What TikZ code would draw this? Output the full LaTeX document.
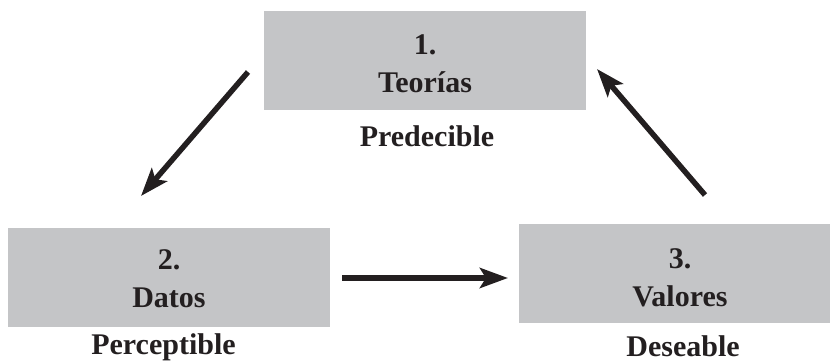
\documentclass[tikz,border=0pt]{standalone}
\usepackage{fontspec}
\setmainfont{Liberation Serif}
\usetikzlibrary{arrows.meta}
\definecolor{boxgray}{HTML}{C4C5C7}
\definecolor{ink}{HTML}{231F20}
\tikzset{
  stagebox/.style={fill=boxgray, draw=none, inner sep=0pt, rectangle},
  stagetext/.style={text=ink, font=\bfseries\fontsize{30}{38}\selectfont, align=center, inner sep=0pt, anchor=north},
  labeltext/.style={text=ink, font=\bfseries\fontsize{30}{38}\selectfont, inner sep=0pt, anchor=base},
  flow/.style={draw=ink, line width=5.5pt, -{Stealth[length=28pt, width=20pt, inset=6pt]}}
}
\begin{document}
\begin{tikzpicture}[x=1pt, y=-1pt]
\useasboundingbox (0,0) rectangle (831,363);
% boxes
\node[stagebox, minimum width=322pt, minimum height=99pt] (b1) at (425,60.5) {};
\node[stagebox, minimum width=322pt, minimum height=99pt] (b2) at (169,277.5) {};
\node[stagebox, minimum width=311pt, minimum height=99pt] (b3) at (674.5,273.5) {};
% texts in boxes
\node[stagetext] (t1) at (425,34) {1.\\Teorías};
\node[stagetext] (t2) at (169,249) {2.\\Datos};
\node[stagetext] (t3) at (680,248) {3.\\Valores};
% labels
\node[labeltext] (l1) at (427,147) {Predecible};
\node[labeltext] (l2) at (163.5,355) {Perceptible};
\node[labeltext] (l3) at (683,357) {Deseable};
% connector ends
\coordinate (a1s) at (248,72);
\coordinate (a1e) at (141,196);
\coordinate (a2s) at (342,278);
\coordinate (a2e) at (508,278);
\coordinate (a3s) at (705,195);
\coordinate (a3e) at (597,69);
\draw[flow] (a1s) -- (a1e);
\draw[flow] (a2s) -- (a2e);
\draw[flow] (a3s) -- (a3e);
\end{tikzpicture}
\end{document}
